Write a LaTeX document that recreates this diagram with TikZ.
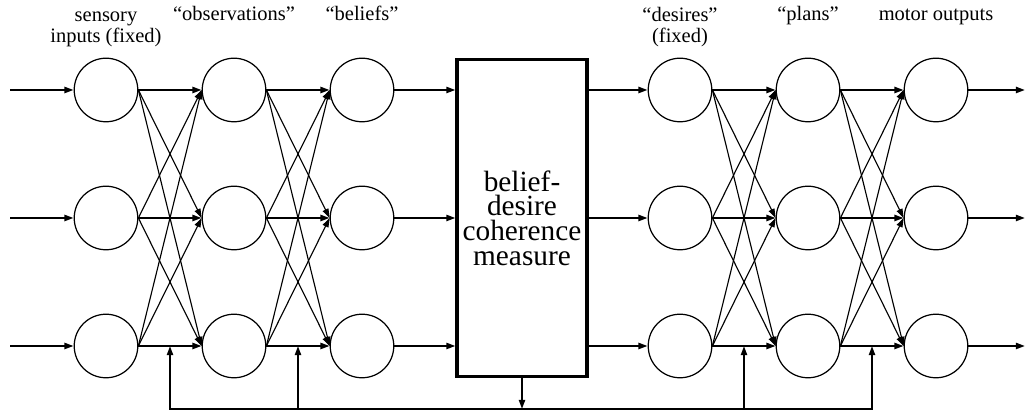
\documentclass[tikz,border=0pt]{standalone}
\usepackage{fontspec}
\setmainfont{Liberation Serif}
\usetikzlibrary{arrows.meta,calc}

\begin{document}
\begin{tikzpicture}[x=0.4878pt, y=0.4878pt,
  unit/.style={circle, draw, line width=0.6pt, minimum size=31pt, inner sep=0pt},
  cohbox/.style={draw, line width=1.5pt, minimum width=63.4pt, minimum height=155pt,
                 align=center, inner sep=0pt, font=\fontsize{14.3}{12}\selectfont},
  mainarrow/.style={-{Triangle[length=4.5pt,width=3pt]}, line width=1pt},
  crossarrow/.style={-{Triangle[length=4.5pt,width=3pt]}, line width=0.55pt},
  feedback/.style={line width=1pt},
  lbl/.style={anchor=base, align=center, font=\fontsize{10}{10.7}\selectfont},
]
\useasboundingbox (0,0) rectangle (1027,411);

% ── perception side ─────────────────────────────────────────────────────
\node[unit] (in1) at (106,321) {};
\node[unit] (in2) at (106,193) {};
\node[unit] (in3) at (106,65)  {};
\node[unit] (ob1) at (234,321) {};
\node[unit] (ob2) at (234,193) {};
\node[unit] (ob3) at (234,65)  {};
\node[unit] (be1) at (362,321) {};
\node[unit] (be2) at (362,193) {};
\node[unit] (be3) at (362,65)  {};

% ── coherence box ───────────────────────────────────────────────────────
\node[cohbox] (coh) at (522,193) {belief-\\desire\\coherence\\measure};

% ── action side ─────────────────────────────────────────────────────────
\node[unit] (de1) at (680,321) {};
\node[unit] (de2) at (680,193) {};
\node[unit] (de3) at (680,65)  {};
\node[unit] (pl1) at (808,321) {};
\node[unit] (pl2) at (808,193) {};
\node[unit] (pl3) at (808,65)  {};
\node[unit] (mo1) at (936,321) {};
\node[unit] (mo2) at (936,193) {};
\node[unit] (mo3) at (936,65)  {};

% ── layer labels (base = last line) ─────────────────────────────────────
\node[lbl] (lin) at (106,368) {sensory\\inputs (fixed)};
\node[lbl] (lob) at (234,390) {``observations''};
\node[lbl] (lbe) at (362,390) {``beliefs''};
\node[lbl] (lde) at (680,368) {``desires''\\(fixed)};
\node[lbl] (lpl) at (808,390) {``plans''};
\node[lbl] (lmo) at (936,390) {motor outputs};

% ── layer to layer ──────────────────────────────────────────────────────
\foreach \a/\b in {in/ob, ob/be, de/pl, pl/mo} {
  \foreach \i in {1,2,3} {
    \draw[mainarrow] (\a\i.east) -- (\b\i.west);
    \foreach \j in {1,2,3} {
      \ifnum\i=\j\else \draw[crossarrow] (\a\i.east) -- (\b\j.west); \fi
    }
  }
}

% ── inputs, outputs and the box ─────────────────────────────────────────
\foreach \i/\y in {1/321, 2/193, 3/65} {
  \coordinate (src\i) at (10,\y);
  \coordinate (dst\i) at (1025,\y);
  \draw[mainarrow] (src\i) -- (in\i.west);
  \draw[mainarrow] (mo\i.east) -- (dst\i);
  \draw[mainarrow] (be\i.east) -- (be\i.east -| coh.west);
  \draw[mainarrow] (coh.east |- de\i.west) -- (de\i.west);
}

% ── feedback ────────────────────────────────────────────────────────────
\coordinate (fb) at (522,2);
\coordinate (tap1) at ($(in3.east)!0.5!(ob3.west)$);
\coordinate (tap2) at ($(ob3.east)!0.5!(be3.west)$);
\coordinate (tap3) at ($(de3.east)!0.5!(pl3.west)$);
\coordinate (tap4) at ($(pl3.east)!0.5!(mo3.west)$);
\draw[mainarrow] (coh.south) -- (coh.south |- fb);
\draw[mainarrow] (coh.south |- fb) -| (tap1);
\draw[mainarrow] (coh.south |- fb) -| (tap4);
\draw[mainarrow] (tap2 |- fb) -- (tap2);
\draw[mainarrow] (tap3 |- fb) -- (tap3);

\end{tikzpicture}
\end{document}
